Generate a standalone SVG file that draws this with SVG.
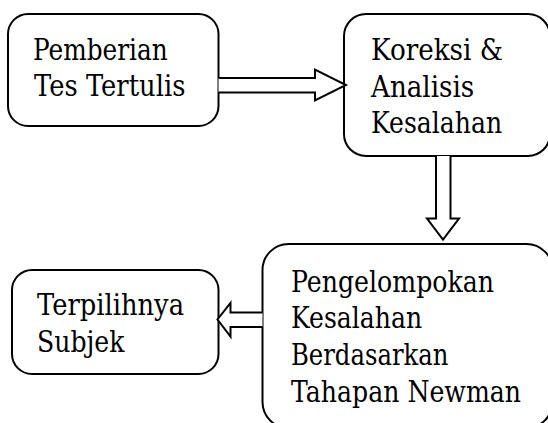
<svg xmlns="http://www.w3.org/2000/svg" width="548" height="423" viewBox="0 0 548 423">
<style>
.box{fill:#fff;stroke:#000;stroke-width:2}
.arr{fill:#fff;stroke:#000;stroke-width:2;stroke-linejoin:miter}
.t{font-family:"DejaVu Serif","Liberation Serif",serif;font-size:29.5px;fill:#000}
</style>
<rect width="548" height="423" fill="#fff"/>
<g id="n1">
<rect class="box" x="8" y="14" width="210.5" height="112" rx="20"/>
<text class="t" x="33" y="59.5" textLength="134.7" lengthAdjust="spacingAndGlyphs">Pemberian</text>
<text class="t" x="34" y="96" textLength="151.4" lengthAdjust="spacingAndGlyphs">Tes Tertulis</text>
</g>
<g id="n2">
<rect class="box" x="344" y="14" width="206" height="142" rx="22"/>
<text class="t" x="371" y="60" textLength="132.1" lengthAdjust="spacingAndGlyphs">Koreksi &amp;</text>
<text class="t" x="371" y="96.7" textLength="103.3" lengthAdjust="spacingAndGlyphs">Analisis</text>
<text class="t" x="371" y="133.3" textLength="131.2" lengthAdjust="spacingAndGlyphs">Kesalahan</text>
</g>
<g id="n3">
<rect class="box" x="262.5" y="244" width="290" height="184" rx="26"/>
<text class="t" x="291" y="291.7" textLength="203" lengthAdjust="spacingAndGlyphs">Pengelompokan</text>
<text class="t" x="291" y="328.3" textLength="131.2" lengthAdjust="spacingAndGlyphs">Kesalahan</text>
<text class="t" x="291" y="365" textLength="157.4" lengthAdjust="spacingAndGlyphs">Berdasarkan</text>
<text class="t" x="291" y="401.7" textLength="230" lengthAdjust="spacingAndGlyphs">Tahapan Newman</text>
</g>
<g id="n4">
<rect class="box" x="12" y="270" width="206.5" height="104" rx="20"/>
<text class="t" x="37" y="315" textLength="147" lengthAdjust="spacingAndGlyphs">Terpilihnya</text>
<text class="t" x="37" y="351.7" textLength="87.5" lengthAdjust="spacingAndGlyphs">Subjek</text>
</g>
<g id="connectors">
<path class="arr" d="M218.5,78 L315,78 L315,69.5 L346,85 L315,100.5 L315,92.5 L218.5,92.5"/>
<path class="arr" d="M436,156 L436,218.5 L427,218.5 L443,239.5 L459,218.5 L450.5,218.5 L450.5,156"/>
<path class="arr" d="M262.5,312.5 L230.5,312.5 L230.5,303 L217.5,319.5 L230.5,336.5 L230.5,327 L262.5,327"/>
</g>
</svg>
